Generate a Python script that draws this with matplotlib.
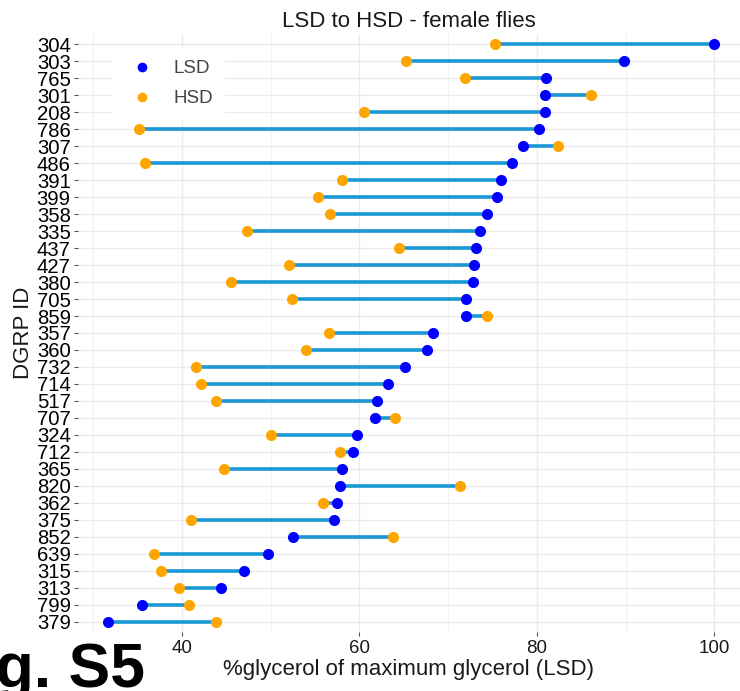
import matplotlib
matplotlib.use("Agg")
import matplotlib.pyplot as plt
from matplotlib.lines import Line2D
import numpy as np

plt.rcParams['font.family'] = ['Liberation Sans', 'DejaVu Sans']

# DGRP lines, top to bottom
ids = ["304", "303", "765", "301", "208", "786", "307", "486", "391", "399",
       "358", "335", "437", "427", "380", "705", "859", "357", "360", "732",
       "714", "517", "707", "324", "712", "365", "820", "362", "375", "852",
       "639", "315", "313", "799", "379"]
lsd = [100.0, 89.8, 81.0, 80.9, 80.9, 80.2, 78.4, 77.2, 76.0, 75.5,
       74.4, 73.6, 73.1, 72.9, 72.8, 72.0, 72.0, 68.3, 67.6, 65.2,
       63.2, 62.0, 61.8, 59.7, 59.3, 58.1, 57.8, 57.5, 57.1, 52.5,
       49.7, 47.0, 44.4, 35.5, 31.7]
hsd = [75.3, 65.3, 71.9, 86.1, 60.5, 35.2, 82.4, 35.9, 58.1, 55.4,
       56.7, 47.3, 64.5, 52.1, 45.6, 52.4, 74.4, 56.6, 54.0, 41.6,
       42.2, 43.8, 64.0, 50.1, 57.8, 44.7, 71.3, 55.9, 41.0, 63.8,
       36.9, 37.7, 39.7, 40.8, 43.9]

line_col = "#1A98D5"
lsd_col = "#0000FF"
hsd_col = "#FFA500"

fig = plt.figure(figsize=(7.4, 6.91), dpi=100)
ax = fig.add_axes([0.105, 0.0855, 0.895, 0.8652])

y = np.arange(len(ids))[::-1]

ax.hlines(y, lsd, hsd, color=line_col, lw=2.6, zorder=2)
ax.scatter(hsd, y, s=64, color=hsd_col, zorder=3, linewidths=0)
ax.scatter(lsd, y, s=64, color=lsd_col, zorder=4, linewidths=0)

ax.set_xlim(28.27, 102.9)
ax.set_ylim(-0.6, len(ids) - 0.4)
ax.set_yticks(y)
ax.set_yticklabels(ids, fontsize=14.6, color="black")
ax.set_xticks([40, 60, 80, 100])
ax.set_xticks([30, 50, 70, 90], minor=True)
ax.tick_params(axis="x", which="major", labelsize=13.5, labelcolor="#1a1a1a",
               length=3, color="#555555", pad=3)
ax.tick_params(axis="x", which="minor", length=0)
ax.tick_params(axis="y", length=3, color="#555555", pad=2)

ax.grid(True, which="major", color="#EBEBEB", lw=1.0, zorder=0)
ax.grid(True, which="minor", axis="x", color="#F2F2F2", lw=0.8, zorder=0)
ax.set_axisbelow(True)
for s in ax.spines.values():
    s.set_visible(False)

ax.set_title("LSD to HSD - female flies", fontsize=16, pad=5, color="#1a1a1a")
ax.set_xlabel("%glycerol of maximum glycerol (LSD)", fontsize=16, labelpad=1,
              color="#1a1a1a")
ax.set_ylabel("DGRP ID", fontsize=16, labelpad=2, color="#1a1a1a")

handles = [Line2D([], [], ls="none", marker="o", ms=7, color=lsd_col, mec="none"),
           Line2D([], [], ls="none", marker="o", ms=7, color=hsd_col, mec="none")]
leg = ax.legend(handles, ["LSD", "HSD"], loc="upper left",
                bbox_to_anchor=(112 / 740, 1 - 49 / 691),
                bbox_transform=fig.transFigure, frameon=True, facecolor="white",
                edgecolor="none", framealpha=1, fontsize=13.5, borderpad=0.6,
                handletextpad=0.7, labelspacing=0.69, borderaxespad=0)
for t in leg.get_texts():
    t.set_color("#444444")

fig.text(145 / 740, 4 / 691, "Fig. S5", ha="right", va="baseline",
         fontsize=45, fontweight="bold", color="black")

fig.savefig("out.png", dpi=100)
